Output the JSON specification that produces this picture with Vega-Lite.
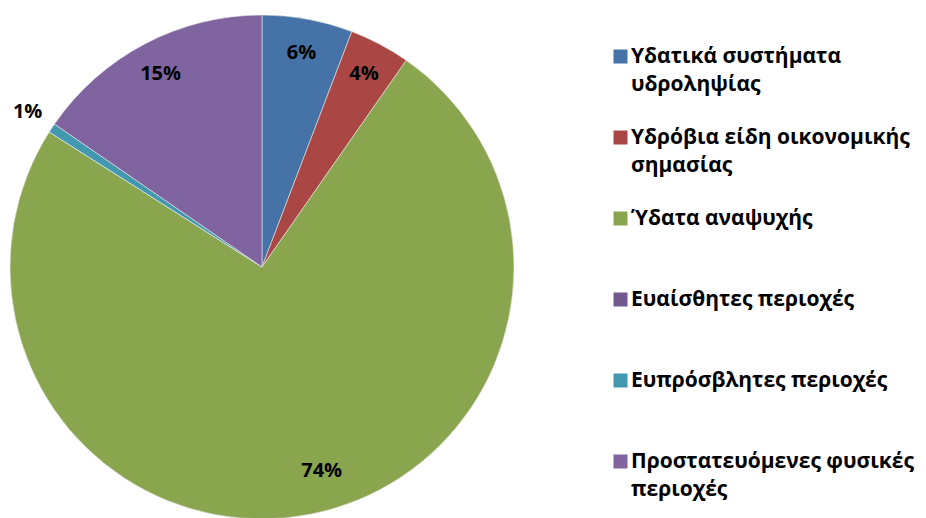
{
  "$schema": "https://vega.github.io/schema/vega-lite/v6.json",
  "autosize": "none",
  "width": 524,
  "height": 502,
  "padding": {"left": 0, "top": 16, "right": 402, "bottom": 0},
  "background": "white",
  "config": {
    "view": {"stroke": null},
    "style": {"guide-label": {"lineHeight": 28}}
  },
  "data": {
    "values": [
      {"cat": "Υδατικά συστήματα υδροληψίας", "value": 0.058, "ord": 1},
      {"cat": "Υδρόβια είδη οικονομικής σημασίας", "value": 0.039, "ord": 2},
      {"cat": "Ύδατα αναψυχής", "value": 0.743, "ord": 3},
      {"cat": "Ευαίσθητες περιοχές", "value": 0, "ord": 4},
      {"cat": "Ευπρόσβλητες περιοχές", "value": 0.006, "ord": 5},
      {"cat": "Προστατευόμενες φυσικές περιοχές", "value": 0.154, "ord": 6}
    ]
  },
  "encoding": {
    "theta": {"field": "value", "type": "quantitative", "stack": true},
    "order": {"field": "ord", "type": "quantitative", "sort": "ascending"}
  },
  "layer": [
    {
      "mark": {"type": "arc", "outerRadius": 252, "stroke": "#e8e8e8", "strokeWidth": 0.6},
      "encoding": {
        "color": {
          "field": "cat",
          "type": "nominal",
          "sort": null,
          "scale": {
            "domain": ["Υδατικά συστήματα υδροληψίας", "Υδρόβια είδη οικονομικής σημασίας", "Ύδατα αναψυχής", "Ευαίσθητες περιοχές", "Ευπρόσβλητες περιοχές", "Προστατευόμενες φυσικές περιοχές"],
            "range": ["#4572A7", "#AA4643", "#89A54E", "#71588F", "#4198AF", "#80649F"]
          },
          "legend": {
            "title": null,
            "orient": "none",
            "legendX": 610,
            "legendY": 30,
            "padding": 0,
            "symbolType": "square",
            "symbolSize": 196,
            "symbolStrokeWidth": 0,
            "symbolOpacity": 1,
            "labelFont": "Open Sans",
            "labelFontSize": 21,
            "labelFontWeight": "bold",
            "labelColor": "#000000",
            "labelBaseline": "middle",
            "labelOffset": 0,
            "labelLimit": 400,
            "gridAlign": "all",
            "rowPadding": 31,
            "labelExpr": "datum.label == 'Υδατικά συστήματα υδροληψίας' ? ['Υδατικά συστήματα', 'υδροληψίας'] : datum.label == 'Υδρόβια είδη οικονομικής σημασίας' ? ['Υδρόβια είδη οικονομικής', 'σημασίας'] : datum.label == 'Προστατευόμενες φυσικές περιοχές' ? ['Προστατευόμενες φυσικές', 'περιοχές'] : datum.label"
          }
        }
      }
    },
    {
      "mark": {"type": "text", "radius": 218, "font": "Open Sans", "fontSize": 20, "fontWeight": "bold", "color": "#000000"},
      "encoding": {
        "text": {
          "condition": {"test": "datum.value < 0.01 || datum.value > 0.5", "value": ""},
          "field": "value",
          "type": "quantitative",
          "format": ".0%"
        }
      }
    },
    {
      "mark": {"type": "text", "radius": 212, "dx": 18, "dy": -4, "font": "Open Sans", "fontSize": 20, "fontWeight": "bold", "color": "#000000"},
      "encoding": {
        "text": {
          "condition": {"test": "datum.value <= 0.5", "value": ""},
          "field": "value",
          "type": "quantitative",
          "format": ".0%"
        }
      }
    },
    {
      "mark": {"type": "text", "radius": 281, "font": "Open Sans", "fontSize": 20, "fontWeight": "bold", "color": "#000000"},
      "encoding": {
        "text": {
          "condition": {"test": "datum.value >= 0.01 || datum.value == 0", "value": ""},
          "field": "value",
          "type": "quantitative",
          "format": ".0%"
        }
      }
    }
  ]
}
